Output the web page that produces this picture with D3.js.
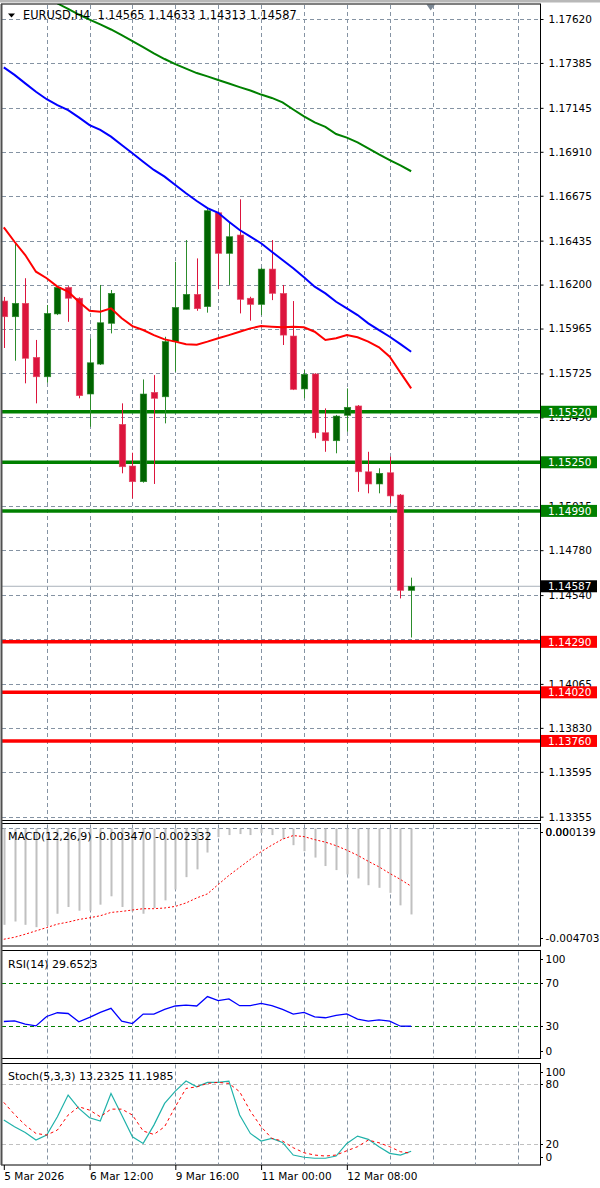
<!DOCTYPE html>
<html>
<head>
<meta charset="utf-8">
<script src="https://cdn.jsdelivr.net/npm/d3@7"></script>
<style>
  body { margin: 0; background: #fff; overflow: hidden; }
  svg text { font-family: "DejaVu Sans", sans-serif; }
</style>
</head>
<body>
<div id="chart"></div>
<script>
var svgWidth = 600;
var svgHeight = 1188;

// H4 bars, index 0 = 5 Mar 04:00
var timeLabels = ["5 Mar 2026", "6 Mar 12:00", "9 Mar 16:00", "11 Mar 00:00", "12 Mar 08:00"];
var timeLabelBars = [0, 8, 16, 24, 32];

var opens = [1.16112, 1.16028, 1.16100, 1.15811, 1.15707, 1.16043, 1.16185, 1.16127, 1.15615, 1.15775,
  1.15993, 1.15453, 1.15230, 1.15146, 1.15624, 1.15600, 1.15895, 1.16068, 1.16148, 1.16082,
  1.16584, 1.16367, 1.16465, 1.16127, 1.16094, 1.16283, 1.16153, 1.15925, 1.15642, 1.15722,
  1.15408, 1.15365, 1.15501, 1.15551, 1.15199, 1.15134, 1.15194, 1.15075, 1.14565];
var highs = [1.16134, 1.16421, 1.16234, 1.15904, 1.16091, 1.16192, 1.16192, 1.16132, 1.15913, 1.16198,
  1.16171, 1.15565, 1.15301, 1.15693, 1.15716, 1.15921, 1.16322, 1.16438, 1.16340, 1.16608,
  1.16590, 1.16536, 1.16656, 1.16135, 1.16290, 1.16438, 1.16198, 1.16112, 1.15743, 1.15726,
  1.15538, 1.15503, 1.15645, 1.15556, 1.15306, 1.15218, 1.15280, 1.15080, 1.14633];
var lows = [1.15861, 1.15793, 1.15672, 1.15565, 1.15675, 1.16037, 1.16001, 1.15592, 1.15440, 1.15770,
  1.15939, 1.15191, 1.15057, 1.15141, 1.15134, 1.15458, 1.15734, 1.16068, 1.16060, 1.16050,
  1.16175, 1.16198, 1.16046, 1.16007, 1.16037, 1.16117, 1.15877, 1.15636, 1.15592, 1.15378,
  1.15306, 1.15298, 1.15413, 1.15092, 1.15084, 1.15084, 1.15030, 1.14522, 1.14313];
var closes = [1.16028, 1.16100, 1.15806, 1.15707, 1.16046, 1.16185, 1.16127, 1.15606, 1.15782, 1.15996,
  1.16153, 1.15226, 1.15146, 1.15615, 1.15592, 1.15895, 1.16078, 1.16148, 1.16071, 1.16595,
  1.16367, 1.16456, 1.16121, 1.16094, 1.16283, 1.16153, 1.15930, 1.15640, 1.15720, 1.15408,
  1.15365, 1.15497, 1.15544, 1.15199, 1.15134, 1.15191, 1.15070, 1.14565, 1.14587];

// moving averages on the price chart
var maRed = [1.16506, 1.16429, 1.16358, 1.16269, 1.16234, 1.16189, 1.16162, 1.16108, 1.16060, 1.16055,
  1.16073, 1.16020, 1.15978, 1.15957, 1.15930, 1.15907, 1.15895, 1.15881, 1.15879, 1.15895,
  1.15913, 1.15930, 1.15948, 1.15966, 1.15978, 1.15975, 1.15972, 1.15975, 1.15972, 1.15948,
  1.15904, 1.15913, 1.15930, 1.15918, 1.15895, 1.15865, 1.15814, 1.15729, 1.15645];
var maBlue = [1.17361, 1.17321, 1.17276, 1.17231, 1.17191, 1.17160, 1.17133, 1.17094, 1.17053, 1.17027,
  1.16991, 1.16946, 1.16902, 1.16857, 1.16813, 1.16777, 1.16732, 1.16688, 1.16647, 1.16609,
  1.16584, 1.16536, 1.16492, 1.16456, 1.16421, 1.16376, 1.16331, 1.16287, 1.16239, 1.16189,
  1.16153, 1.16108, 1.16073, 1.16037, 1.15993, 1.15957, 1.15921, 1.15882, 1.15841];
var maGreen = [null, null, null, null, null, 1.17703, 1.17674, 1.17644, 1.17617, 1.17591,
  1.17564, 1.17534, 1.17502, 1.17470, 1.17436, 1.17406, 1.17379, 1.17355, 1.17331, 1.17313,
  1.17294, 1.17275, 1.17256, 1.17238, 1.17216, 1.17198, 1.17174, 1.17136, 1.17099, 1.17067,
  1.17043, 1.17005, 1.16986, 1.16960, 1.16928, 1.16896, 1.16866, 1.16837, 1.16806];

var greenLevels = [1.15520, 1.15250, 1.14990];
var redLevels = [1.14290, 1.14020, 1.13760];
var bidPrice = 1.14587;

var priceTicks = [1.17620, 1.17385, 1.17145, 1.16910, 1.16675, 1.16435, 1.16200, 1.15965, 1.15725, 1.15490,
  1.15255, 1.15015, 1.14780, 1.14540, 1.14305, 1.14065, 1.13830, 1.13595, 1.13355];

// MACD(12,26,9)
var macdMain = [-0.003889, -0.003755, -0.003889, -0.003983, -0.003918, -0.003442, -0.003169, -0.003320, -0.003320, -0.003076,
  -0.002738, -0.003169, -0.003348, -0.003442, -0.003210, -0.002901, -0.002465, -0.001965, -0.001651, -0.000972,
  -0.000349, -0.000268, -0.000227, -0.000268, -0.000187, -0.000268, -0.000431, -0.000675, -0.000919, -0.001175,
  -0.001517, -0.001680, -0.001855, -0.002018, -0.002290, -0.002396, -0.002599, -0.003104, -0.003470];
var macdSignal = [-0.004471, -0.004390, -0.004268, -0.004133, -0.003999, -0.003861, -0.003779, -0.003674, -0.003604, -0.003523,
  -0.003389, -0.003348, -0.003291, -0.003238, -0.003238, -0.003210, -0.003145, -0.003006, -0.002803, -0.002640,
  -0.002262, -0.001896, -0.001570, -0.001244, -0.000939, -0.000675, -0.000431, -0.000288, -0.000329, -0.000451,
  -0.000553, -0.000695, -0.000878, -0.001082, -0.001326, -0.001550, -0.001814, -0.002058, -0.002332];
var macdRange = [-0.004703, 0.000139];

// RSI(14)
var rsiValues = [34.1, 34.7, 31.6, 30.0, 38.8, 42.3, 41.6, 33.8, 37.9, 42.6,
  46.4, 34.4, 32.2, 41.0, 41.0, 45.4, 48.6, 49.5, 48.6, 57.4,
  53.6, 55.2, 48.9, 48.9, 51.1, 48.9, 45.4, 41.0, 42.6, 38.5,
  37.6, 39.8, 41.3, 36.3, 34.4, 35.7, 34.4, 29.7, 29.6523];
var rsiLevels = [70, 30];
var rsiTicks = [100, 70, 30, 0];

// Stoch(5,3,3)
var stochK = [44.2, 37.6, 31.9, 24.3, 29.3, 47.5, 69.1, 55.8, 46.5, 43.2,
  70.7, 49.2, 27.6, 21.0, 39.2, 60.8, 73.0, 83.0, 77.3, 81.7,
  81.7, 83.0, 49.2, 30.9, 23.3, 26.0, 22.0, 9.4, 7.2, 6.2,
  6.2, 8.4, 21.0, 28.3, 25.0, 17.7, 11.1, 9.4, 13.2325];
var stochD = [61.8, 49.8, 39.2, 30.9, 29.3, 34.3, 49.2, 57.5, 54.1, 47.5,
  55.1, 55.1, 49.2, 33.3, 29.9, 37.6, 57.5, 75.7, 77.3, 80.7,
  81.7, 80.7, 72.4, 53.1, 37.6, 26.0, 23.3, 16.7, 11.7, 9.4,
  8.4, 9.4, 13.7, 17.7, 24.3, 21.6, 17.7, 12.7, 11.1985];
var stochLevels = [80, 20];
var stochTicks = [100, 80, 20, 0];


var plotLeft = 2;
var plotRight = 540;
var panels = {
  price: { top: 4, bottom: 820.5 },
  macd: { top: 823.5, bottom: 946 },
  rsi: { top: 950.5, bottom: 1058.5 },
  stoch: { top: 1063.5, bottom: 1165 }
};
var gridColor = "#8593a3";

var svg = d3.select("#chart")
  .append("svg")
  .attr("width", svgWidth)
  .attr("height", svgHeight);

var bars = d3.range(opens.length);

var x = d3.scaleLinear().domain([0, 50]).range([3.8, 539.8]);
var yPrice = d3.scaleLinear().domain([1.13355, 1.17620]).range([816.7, 19]);
var yMacd = d3.scaleLinear().domain(macdRange).range([945, 825]);
var yRsi = d3.scaleLinear().domain([0, 100]).range([1058, 951]);
var yStoch = d3.scaleLinear().domain([0, 100]).range([1164.5, 1064]);

// window frame strip
svg.append("rect").attr("x", 0).attr("y", 0).attr("width", svgWidth).attr("height", 2.5).attr("fill", "#b8b8b8");

var defs = svg.append("defs");
Object.keys(panels).forEach(function(k) {
  var p = panels[k];
  defs.append("clipPath").attr("id", "clip-" + k)
    .append("rect")
    .attr("x", plotLeft).attr("y", p.top)
    .attr("width", plotRight - plotLeft).attr("height", p.bottom - p.top);
});

// vertical grid in every panel
var gridBars = d3.range(4, 50, 4);
Object.keys(panels).forEach(function(k) {
  var p = panels[k];
  svg.append("g").selectAll("line")
    .data(gridBars).enter().append("line")
    .attr("x1", d => Math.round(x(d)) + 0.5)
    .attr("x2", d => Math.round(x(d)) + 0.5)
    .attr("y1", p.top + 1)
    .attr("y2", p.bottom - 1)
    .attr("stroke", gridColor)
    .attr("stroke-dasharray", "4,3");
});

// horizontal price grid
svg.append("g").selectAll("line")
  .data(priceTicks).enter().append("line")
  .attr("x1", plotLeft)
  .attr("x2", plotRight)
  .attr("y1", d => Math.round(yPrice(d)) + 0.5)
  .attr("y2", d => Math.round(yPrice(d)) + 0.5)
  .attr("stroke", gridColor)
  .attr("stroke-dasharray", "4,3");

// ---------- price panel ----------
var priceG = svg.append("g").attr("clip-path", "url(#clip-price)");

// bid line
priceG.append("line")
  .attr("x1", plotLeft).attr("x2", plotRight)
  .attr("y1", yPrice(bidPrice)).attr("y2", yPrice(bidPrice))
  .attr("stroke", "#a9b1ba").attr("stroke-width", 1);

// horizontal levels
priceG.selectAll(".lvl-g").data(greenLevels).enter().append("line")
  .attr("x1", plotLeft).attr("x2", plotRight)
  .attr("y1", d => yPrice(d)).attr("y2", d => yPrice(d))
  .attr("stroke", "#008000").attr("stroke-width", 3.5);
priceG.selectAll(".lvl-r").data(redLevels).enter().append("line")
  .attr("x1", plotLeft).attr("x2", plotRight)
  .attr("y1", d => yPrice(d)).attr("y2", d => yPrice(d))
  .attr("stroke", "#ff0000").attr("stroke-width", 3.5);

// candles
var candle = priceG.selectAll(".candle").data(bars).enter().append("g");
candle.append("line")
  .attr("x1", i => Math.round(x(i)) + 0.5)
  .attr("x2", i => Math.round(x(i)) + 0.5)
  .attr("y1", i => yPrice(highs[i]))
  .attr("y2", i => yPrice(lows[i]))
  .attr("stroke", i => closes[i] >= opens[i] ? "#2c8c2c" : "#dc143c")
  .attr("stroke-width", 1);
candle.append("rect")
  .attr("x", i => Math.round(x(i)) + 0.5 - 3.25)
  .attr("width", 6.5)
  .attr("y", i => yPrice(Math.max(opens[i], closes[i])))
  .attr("height", i => Math.max(1.5, Math.abs(yPrice(opens[i]) - yPrice(closes[i]))))
  .attr("fill", i => closes[i] >= opens[i] ? "#006400" : "#dc143c")
  .attr("stroke", i => closes[i] >= opens[i] ? "#2c8c2c" : "#e34b68")
  .attr("stroke-width", 0.6);

// moving averages
function maLine(values) {
  return d3.line()
    .defined(i => values[i] !== null)
    .x(i => x(i))
    .y(i => yPrice(values[i]));
}
[[maGreen, "#008000"], [maBlue, "#0000ff"], [maRed, "#ff0000"]].forEach(function(m) {
  priceG.append("path")
    .datum(bars)
    .attr("d", maLine(m[0]))
    .attr("fill", "none")
    .attr("stroke", m[1])
    .attr("stroke-width", 2);
});

// header
svg.append("path")
  .attr("d", "M8,13.5 L15,13.5 L11.5,17.5 Z")
  .attr("fill", "#000");
var last = opens.length - 1;
svg.append("text")
  .attr("x", 23).attr("y", 19)
  .attr("font-size", "11.4px")
  .attr("fill", "#000")
  .attr("xml:space", "preserve")
  .text("EURUSD,H4  " + [opens[last], highs[last], lows[last], closes[last]].map(d => d.toFixed(5)).join(" "));

// shift marker
svg.append("path")
  .attr("d", "M426.5,4.5 L435,4.5 L430.7,10.5 Z")
  .attr("fill", "#7b8794");

// ---------- MACD ----------
var macdG = svg.append("g").attr("clip-path", "url(#clip-macd)");
macdG.append("line")
  .attr("x1", plotLeft).attr("x2", plotRight)
  .attr("y1", Math.round(yMacd(0)) + 0.5).attr("y2", Math.round(yMacd(0)) + 0.5)
  .attr("stroke", gridColor).attr("stroke-dasharray", "4,3");
macdG.selectAll(".hist").data(bars).enter().append("rect")
  .attr("x", i => Math.round(x(i)) - 0.5)
  .attr("width", 2)
  .attr("y", i => yMacd(Math.max(0, macdMain[i])))
  .attr("height", i => Math.abs(yMacd(macdMain[i]) - yMacd(0)))
  .attr("fill", "#c0c0c0");
macdG.append("path")
  .datum(bars)
  .attr("d", d3.line().x(i => x(i)).y(i => yMacd(macdSignal[i])))
  .attr("fill", "none")
  .attr("stroke", "#ff0000")
  .attr("stroke-width", 1)
  .attr("stroke-dasharray", "2,2");
svg.append("text")
  .attr("x", 8).attr("y", panels.macd.top + 16.5)
  .attr("font-size", "11px")
  .text("MACD(12,26,9) " + macdMain[last].toFixed(6) + " " + macdSignal[last].toFixed(6));

// ---------- RSI ----------
var rsiG = svg.append("g").attr("clip-path", "url(#clip-rsi)");
rsiG.selectAll(".lvl").data(rsiLevels).enter().append("line")
  .attr("x1", plotLeft).attr("x2", plotRight)
  .attr("y1", d => Math.round(yRsi(d)) + 0.5).attr("y2", d => Math.round(yRsi(d)) + 0.5)
  .attr("stroke", "#008000").attr("stroke-dasharray", "4,3");
rsiG.append("path")
  .datum(bars)
  .attr("d", d3.line().x(i => x(i)).y(i => yRsi(rsiValues[i])))
  .attr("fill", "none")
  .attr("stroke", "#0000ff")
  .attr("stroke-width", 1.3);
svg.append("text")
  .attr("x", 8).attr("y", panels.rsi.top + 17)
  .attr("font-size", "11px")
  .text("RSI(14) " + rsiValues[last].toFixed(4));

// ---------- Stochastic ----------
var stochG = svg.append("g").attr("clip-path", "url(#clip-stoch)");
stochG.selectAll(".lvl").data(stochLevels).enter().append("line")
  .attr("x1", plotLeft).attr("x2", plotRight)
  .attr("y1", d => Math.round(yStoch(d)) + 0.5).attr("y2", d => Math.round(yStoch(d)) + 0.5)
  .attr("stroke", "#c0c0c0").attr("stroke-dasharray", "4,3");
stochG.append("path")
  .datum(bars)
  .attr("d", d3.line().x(i => x(i)).y(i => yStoch(stochK[i])))
  .attr("fill", "none")
  .attr("stroke", "#20b2aa")
  .attr("stroke-width", 1.2);
stochG.append("path")
  .datum(bars)
  .attr("d", d3.line().x(i => x(i)).y(i => yStoch(stochD[i])))
  .attr("fill", "none")
  .attr("stroke", "#ff0000")
  .attr("stroke-width", 1)
  .attr("stroke-dasharray", "3,3");
svg.append("text")
  .attr("x", 8).attr("y", panels.stoch.top + 16)
  .attr("font-size", "11px")
  .text("Stoch(5,3,3) " + stochK[last].toFixed(4) + " " + stochD[last].toFixed(4));

// ---------- panel borders ----------
Object.keys(panels).forEach(function(k) {
  var p = panels[k];
  svg.append("rect")
    .attr("x", plotLeft - 0.5).attr("y", p.top)
    .attr("width", plotRight - plotLeft + 1).attr("height", p.bottom - p.top)
    .attr("fill", "none").attr("stroke", "#000").attr("stroke-width", 1);
});
svg.append("line")
  .attr("x1", 1.5).attr("x2", 1.5)
  .attr("y1", panels.price.top).attr("y2", panels.stoch.bottom)
  .attr("stroke", "#505050").attr("stroke-width", 2);

// ---------- axes ----------
// tick labels that sit right under a level tag are not drawn (fully covered)
var tagPrices = greenLevels.concat(redLevels, [bidPrice]);
var shownTicks = priceTicks.filter(t => !tagPrices.some(p => Math.abs(yPrice(p) - yPrice(t)) < 3));

var priceAxis = d3.axisRight(yPrice)
  .tickValues(priceTicks)
  .tickSize(3)
  .tickPadding(5)
  .tickFormat(d => shownTicks.indexOf(d) >= 0 ? d3.format(".5f")(d) : "");
svg.append("g")
  .attr("transform", `translate(${plotRight + 0.5}, 0)`)
  .call(priceAxis)
  .call(g => g.select(".domain").remove())
  .call(g => g.selectAll("text").attr("font-size", "10.5px").attr("font-family", "DejaVu Sans").attr("fill", "#000"))
  .call(g => g.selectAll("line").attr("stroke", "#000"));

// level tags on the price scale
function priceTag(value, color) {
  var yy = yPrice(value);
  svg.append("rect")
    .attr("x", 541).attr("y", yy - 6)
    .attr("width", 56).attr("height", 12)
    .attr("fill", color);
  svg.append("text")
    .attr("x", 548).attr("y", yy + 4)
    .attr("font-size", "10.5px")
    .attr("fill", "#fff")
    .text(value.toFixed(5));
}
greenLevels.forEach(d => priceTag(d, "#008000"));
redLevels.forEach(d => priceTag(d, "#ff0000"));
priceTag(bidPrice, "#000");

// indicator scale labels, clamped inside their panel
function sideLabels(values, scale, panel, fmt) {
  values.forEach(function(v) {
    var yy = Math.min(Math.max(scale(v), panel.top + 8), panel.bottom - 8);
    svg.append("line")
      .attr("x1", plotRight).attr("x2", plotRight + 3)
      .attr("y1", Math.round(yy) + 0.5).attr("y2", Math.round(yy) + 0.5)
      .attr("stroke", "#000");
    svg.append("text")
      .attr("x", plotRight + 5.5).attr("y", yy + 4)
      .attr("font-size", "10.5px")
      .text(fmt(v));
  });
}
sideLabels([0], yMacd, panels.macd, d => "0.00");
sideLabels(macdRange, yMacd, panels.macd, d => d.toFixed(6));
sideLabels(rsiTicks, yRsi, panels.rsi, d => d);
sideLabels(stochTicks, yStoch, panels.stoch, d => d);

var timeAxis = d3.axisBottom(x)
  .tickValues(timeLabelBars)
  .tickSize(5)
  .tickPadding(3)
  .tickFormat((d, i) => timeLabels[i]);
svg.append("g")
  .attr("transform", `translate(0, ${panels.stoch.bottom})`)
  .call(timeAxis)
  .call(g => g.select(".domain").remove())
  .call(g => g.selectAll("text").attr("text-anchor", "start").attr("font-size", "10.5px").attr("font-family", "DejaVu Sans").attr("fill", "#000"))
  .call(g => g.selectAll("line").attr("stroke", "#000"));
</script>
</body>
</html>
